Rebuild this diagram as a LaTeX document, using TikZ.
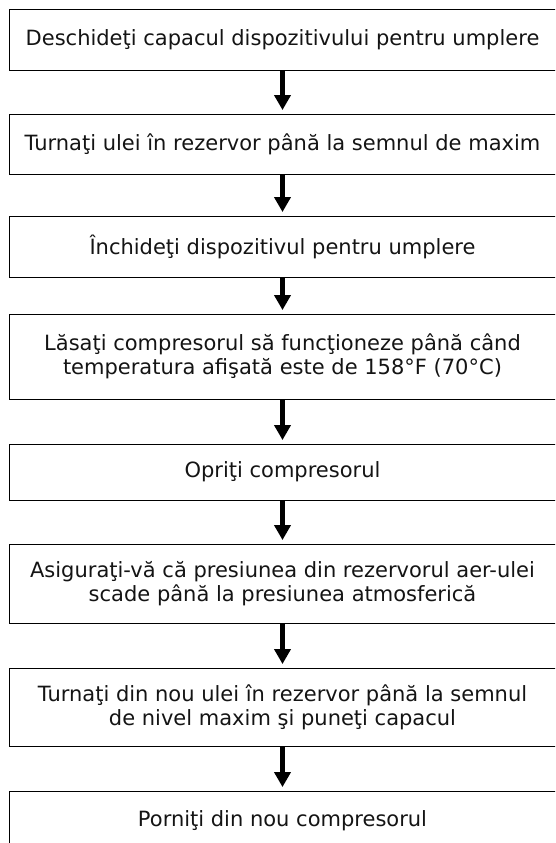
\documentclass[tikz,border=0pt]{standalone}
\usepackage{fontspec}
\setmainfont{DejaVu Sans}
\usetikzlibrary{arrows.meta}
\begin{document}
\begin{tikzpicture}[x=1pt,y=-1pt,
  stepbox/.style={draw=black, line width=0.9pt, minimum width=547pt, inner sep=0pt,
    align=center, font=\fontsize{21}{24}\selectfont, text=black!92},
  flow/.style={line width=4.6pt, -{Triangle[width=16pt,length=15pt]}, shorten >=3.5pt}
]
\useasboundingbox (0,0) rectangle (555,843);
\clip (0,0) rectangle (555,843);

% steps of the procedure, top to bottom
\node[stepbox, minimum height=60.5pt] (s1) at (282.5,39.75) {Deschideţi capacul dispozitivului pentru umplere};
\node[stepbox, minimum height=60pt]   (s2) at (282.5,144)   {Turnaţi ulei în rezervor până la semnul de maxim};
\node[stepbox, minimum height=61pt]   (s3) at (282.5,246.5) {Închideţi dispozitivul pentru umplere};
\node[stepbox, minimum height=85pt]   (s4) at (282.5,356.5) {Lăsaţi compresorul să funcţioneze până când\\temperatura afişată este de 158°F (70°C)};
\node[stepbox, minimum height=56pt]   (s5) at (282.5,472)   {Opriţi compresorul};
\node[stepbox, minimum height=79pt]   (s6) at (282.5,583.5) {Asiguraţi-vă că presiunea din rezervorul aer-ulei\\scade până la presiunea atmosferică};
\node[stepbox, minimum height=78pt]   (s7) at (282.5,707)   {Turnaţi din nou ulei în rezervor până la semnul\\de nivel maxim şi puneţi capacul};
\node[stepbox, minimum height=60pt]   (s8) at (282.5,821)   {Porniţi din nou compresorul};

% connectors
\draw[flow] (s1.south) -- (s2.north);
\draw[flow] (s2.south) -- (s3.north);
\draw[flow] (s3.south) -- (s4.north);
\draw[flow] (s4.south) -- (s5.north);
\draw[flow] (s5.south) -- (s6.north);
\draw[flow] (s6.south) -- (s7.north);
\draw[flow] (s7.south) -- (s8.north);
\end{tikzpicture}
\end{document}
